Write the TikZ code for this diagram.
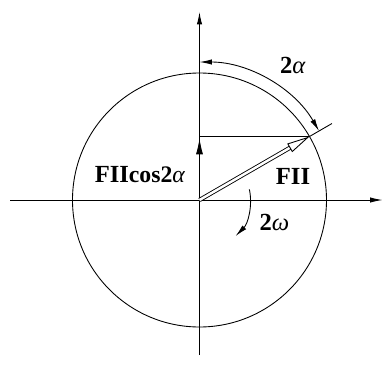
\documentclass[tikz,border=0pt]{standalone}
\usepackage{fontspec}
\setmainfont{Liberation Serif}
\usetikzlibrary{arrows.meta,calc}

\begin{document}
\begin{tikzpicture}[x=.02cm,y=.02cm,line width=.5pt,
  axtip/.style={-{Latex[length=7pt,width=3pt]}},
  lbl/.style={font=\bfseries\fontsize{14}{16}\selectfont}]
\useasboundingbox (-199.5,-187) rectangle (185.5,200);
\coordinate (O) at (0,0);
\coordinate (xl) at (-189,0); \coordinate (xr) at (183,0);
\coordinate (yb) at (0,-155); \coordinate (yt) at (0,188);
\coordinate (P) at (30:127);
\coordinate (Q) at (30:153);
\coordinate (H) at (0,63.5);
% axes and circle
\draw[axtip] (xl)--(xr);
\draw[axtip] (yb)--(yt);
\draw (O) circle (127);
% vector FII and its projection
\draw (H)--(P)--(Q);
\draw[-{Latex[length=9pt,width=4pt]}] (O)--($(H)+(0,-2)$);
\draw[double,double distance=1.4pt,-{Triangle[open,length=13pt,width=5.5pt]}] (O)--(P);
% angles
\draw[{Latex[length=7pt,width=3pt]}-{Latex[length=7pt,width=3pt]}] (30:138) arc[start angle=30,end angle=90,radius=138];
\draw[axtip] (12:51) arc[start angle=12,end angle=-45,radius=51];
\node[lbl] (fii) at (93.5,24) {FII};
\node[lbl] (fiicos) at (-59.5,25) {FII{\fontsize{13.5}{15}\selectfont cos2\textit{\mdseries α}}};
\node[lbl] (alpha) at (93.5,135) {2\textit{\mdseries α}};
\node[lbl] (omega) at (75,-22) {2\textit{\mdseries ω}};
\end{tikzpicture}
\end{document}
